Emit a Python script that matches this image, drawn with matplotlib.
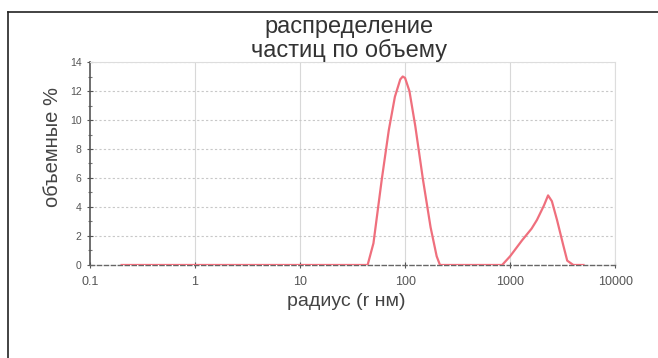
import matplotlib
matplotlib.use("Agg")
import matplotlib.pyplot as plt
from matplotlib.lines import Line2D
from matplotlib.ticker import FixedLocator, NullLocator

plt.rcParams['font.family'] = ['Liberation Sans', 'DejaVu Sans']

# particle radius (nm) and volume fraction (%)
radius = [0.2, 0.5, 1, 3, 10, 30, 44, 50, 60, 70, 80, 90, 95, 100, 110, 125, 148,
          175, 200, 215, 300, 500, 840, 1000, 1300, 1600, 1800, 2100, 2300,
          2500, 2800, 3200, 3500, 4000, 5000]
volume = [0, 0, 0, 0, 0, 0, 0, 1.5, 5.9, 9.3, 11.6, 12.8, 13.0, 12.9, 12.0, 9.6, 5.9,
          2.6, 0.6, 0, 0, 0, 0, 0.6, 1.7, 2.5, 3.1, 4.1, 4.8,
          4.4, 3.1, 1.4, 0.3, 0, 0]

xticks = [0.1, 1, 10, 100, 1000, 10000]
xticklabels = ['0.1', '1', '10', '100', '1000', '10000']
yticks = [0, 2, 4, 6, 8, 10, 12, 14]

fig = plt.figure(figsize=(6.58, 3.58), dpi=100)
ax = fig.add_axes([0.1368, 0.2598, 0.798, 0.567])

ax.set_xscale('log')
ax.set_xlim(0.1, 10000)
ax.set_ylim(0, 14)

# grid
for x in xticks[1:]:
    ax.axvline(x, color='#d8d8d8', lw=0.8, zorder=0)
for y in yticks[1:]:
    ax.axhline(y, color='#c8c8c8', lw=0.8, ls=(0, (2, 2)), zorder=0)

ax.plot(radius, volume, color='#ef6f7d', lw=1.6, zorder=3)

ax.xaxis.set_major_locator(FixedLocator(xticks))
ax.xaxis.set_minor_locator(NullLocator())
ax.set_xticklabels(xticklabels)
ax.yaxis.set_major_locator(FixedLocator(yticks))
ax.yaxis.set_minor_locator(FixedLocator([1, 3, 5, 7, 9, 11, 13]))

ax.tick_params(axis='both', which='major', colors='#555555',
               direction='inout', length=4, width=0.8)
ax.tick_params(axis='x', labelsize=9, pad=6)
ax.tick_params(axis='y', labelsize=7.5, pad=4)
ax.tick_params(axis='y', which='minor', direction='inout', length=3,
               width=0.8, colors='#777777')

for side in ['top', 'right']:
    ax.spines[side].set_color('#dddddd')
    ax.spines[side].set_linewidth(0.8)
ax.spines['left'].set_color('#555555')
ax.spines['left'].set_linewidth(1.2)
ax.spines['bottom'].set_color('#666666')
ax.spines['bottom'].set_linestyle((0, (3, 2)))
ax.spines['bottom'].set_linewidth(1.0)

# axis labels
fig.text(346 / 658, 1 - 302 / 358, 'радиус (r нм)', ha='center', va='center',
         fontsize=14, color='#444444')
fig.text(52 / 658, 1 - 147 / 358, 'объемные %', ha='center', va='center',
         rotation=90, fontsize=14.5, color='#444444')

fig.text(0.53, 0.892, 'распределение\nчастиц по объему', ha='center',
         va='center', fontsize=17, color='#333333', linespacing=1.05)

# outer frame
fig.add_artist(Line2D([0.0122, 1.0], [0.9665, 0.9665], color='#222222',
                      lw=1.2, transform=fig.transFigure))
fig.add_artist(Line2D([0.0122, 0.0122], [0.0, 0.9665], color='#222222',
                      lw=1.2, transform=fig.transFigure))

fig.savefig('out.png', dpi=100)
